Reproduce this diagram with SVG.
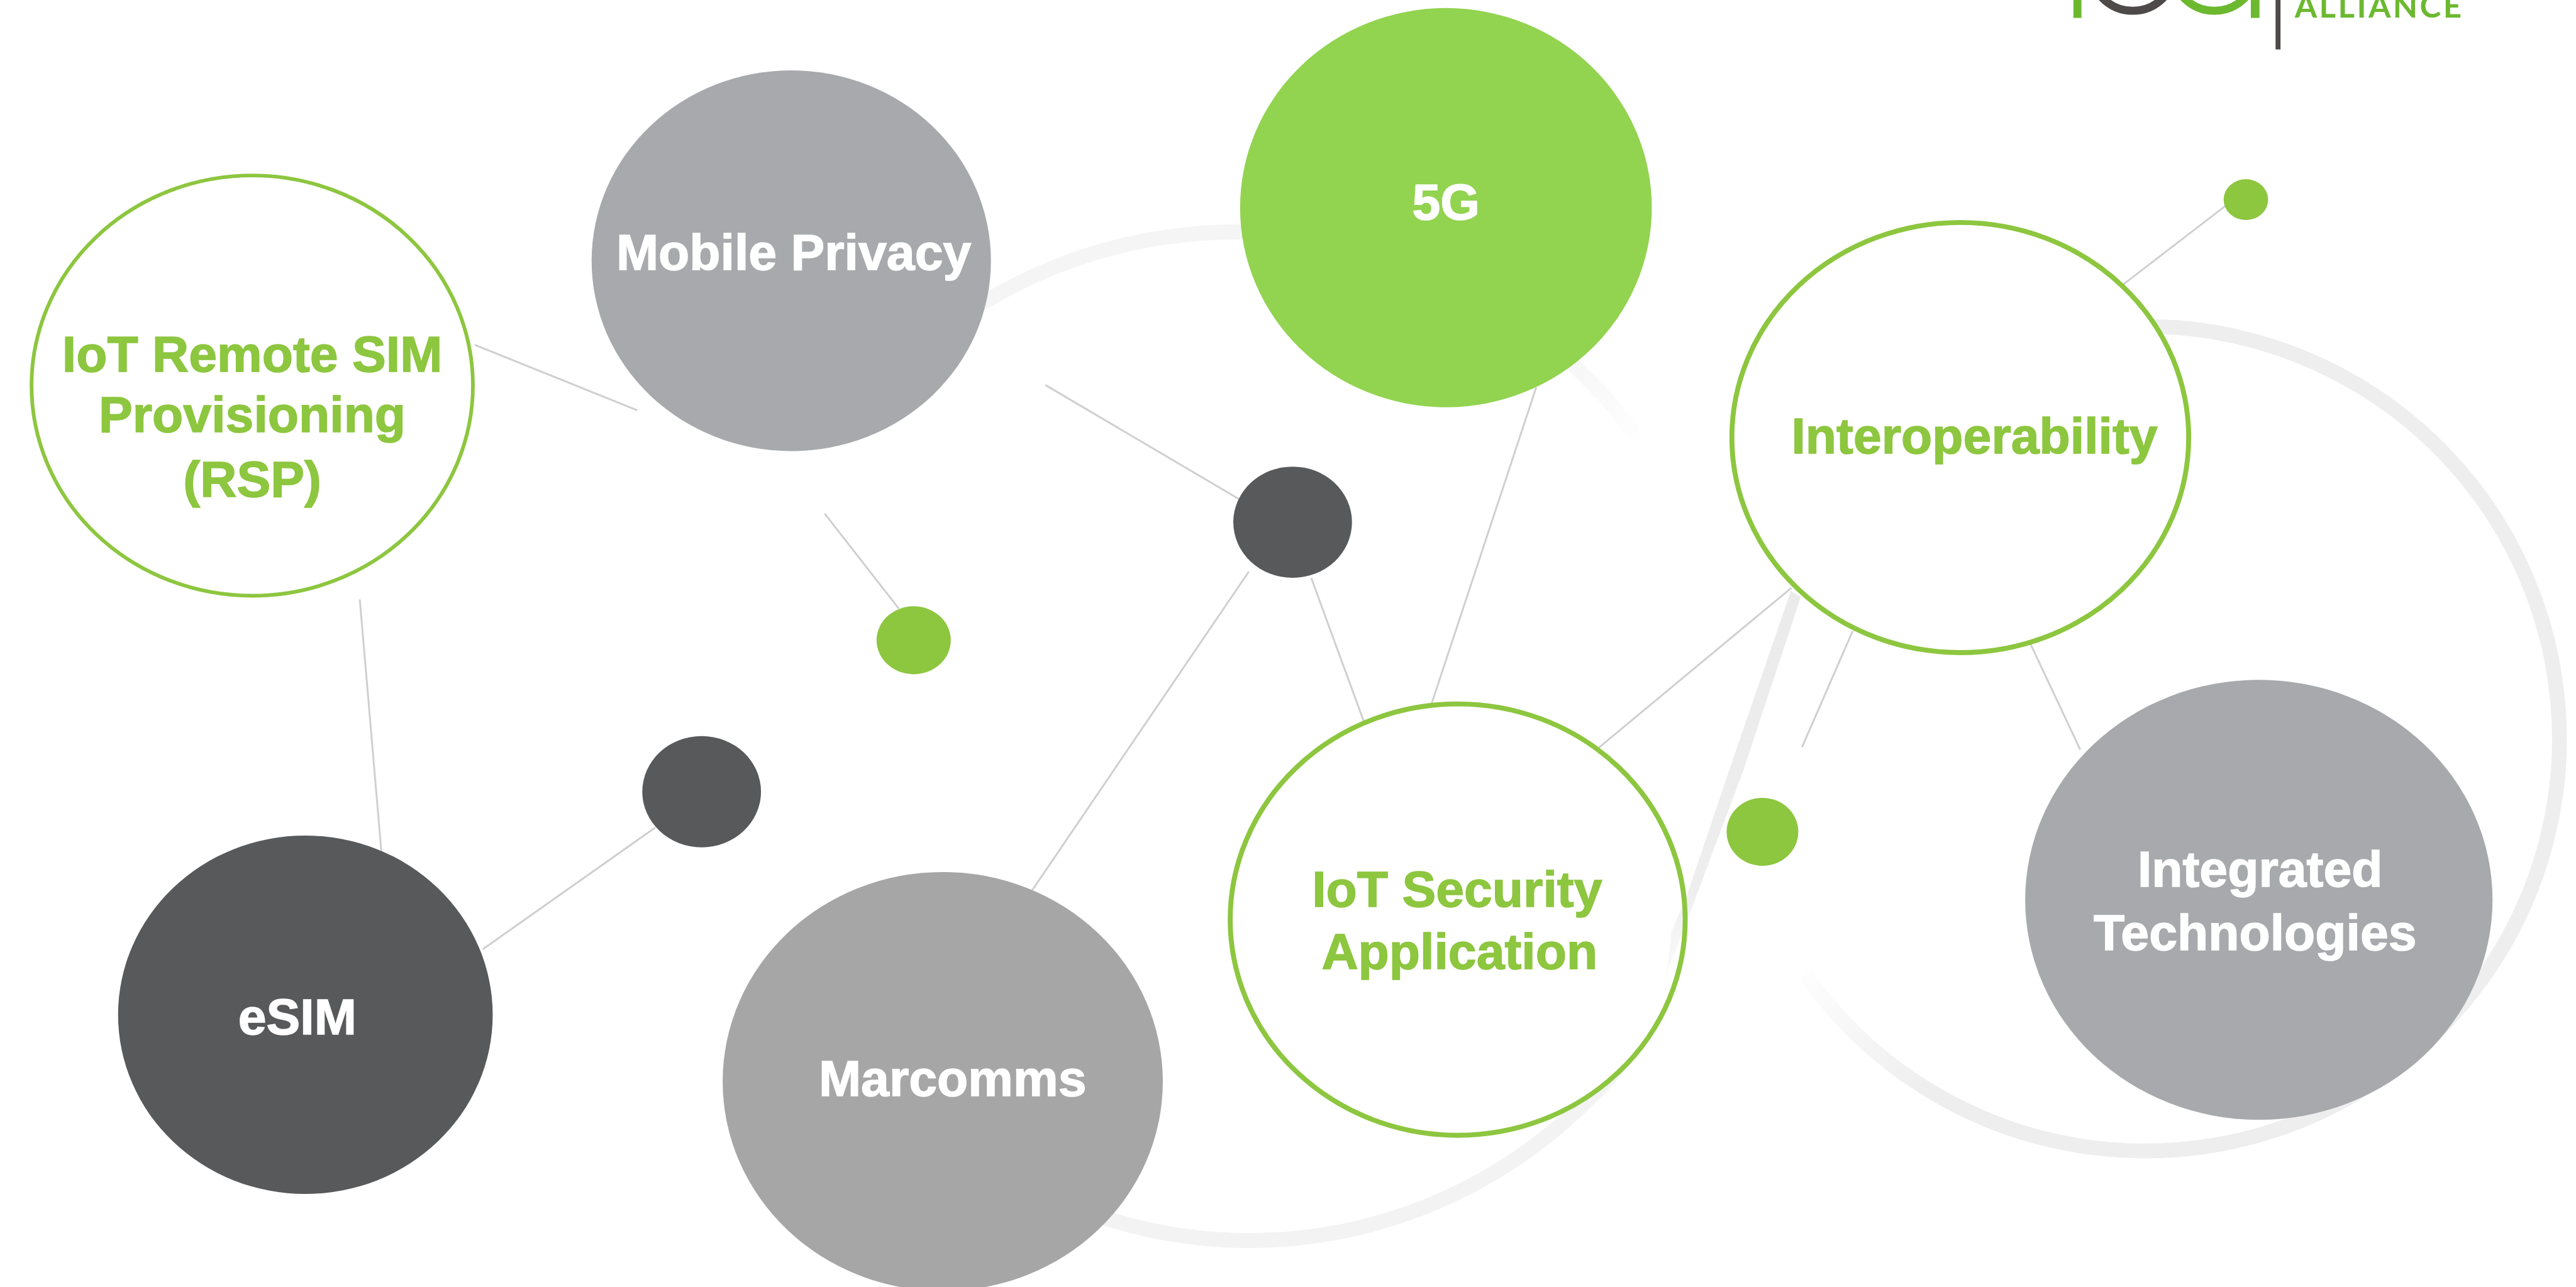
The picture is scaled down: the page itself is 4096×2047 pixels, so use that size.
<svg xmlns="http://www.w3.org/2000/svg" width="4096" height="2047" viewBox="0 0 4096 2047">
<style>
.ring{fill:none;stroke-width:24}
.link{stroke:#cfcfcf;stroke-width:3;fill:none}
.lbl{font-family:"Liberation Sans",Arial,sans-serif;font-weight:700;font-size:82px;text-anchor:middle;stroke-width:1.5}
.w{fill:#fff;stroke:#fff}.g{fill:#8dc63f;stroke:#8dc63f}
.open{fill:#fff;stroke:#8dc63f;stroke-width:8}
</style>
<defs>
<linearGradient id="fadeA" gradientUnits="userSpaceOnUse" x1="2905" y1="1555" x2="3120" y2="1764"><stop offset="0" stop-color="#fff"/><stop offset="1" stop-color="#eeeeee"/></linearGradient>
<linearGradient id="fadeB" gradientUnits="userSpaceOnUse" x1="2880" y1="1000" x2="2695" y2="1578"><stop offset="0" stop-color="#ebebeb"/><stop offset="0.75" stop-color="#eeeeee"/><stop offset="1" stop-color="#fafafa"/></linearGradient>
<linearGradient id="fadeC" gradientUnits="userSpaceOnUse" x1="2480" y1="520" x2="2660" y2="720"><stop offset="0" stop-color="#f2f2f2"/><stop offset="1" stop-color="#fff"/></linearGradient>
</defs>
<rect width="4096" height="2047" fill="#fff"/>
<g transform="scale(0.98296)">
<g id="background-arcs">
<path class="ring" stroke="#eeeeee" d="M3440 529 A670 667 0 1 1 3120 1764"/>
<path class="ring" stroke="url(#fadeA)" d="M3120 1764 A670 667 0 0 1 2920 1576"/>
<path class="ring" stroke="#f5f5f5" d="M1590 490 A803 816 0 0 1 2200 401"/>
<path class="ring" stroke="url(#fadeC)" d="M2440 508 A803 816 0 0 1 2650 710"/>
<path class="ring" stroke="#f3f3f3" d="M2681 1640 A790 816 0 0 1 1770 1965"/>
</g>
<g id="connectors">
<line class="link" x1="768" y1="558" x2="1031" y2="664"/>
<line class="link" x1="582" y1="970" x2="617" y2="1379"/>
<line class="link" x1="1334" y1="831" x2="1454" y2="985"/>
<line class="link" x1="1691" y1="623" x2="2005" y2="808"/>
<line class="link" x1="2121" y1="935" x2="2206" y2="1167"/>
<line class="link" x1="2020" y1="925" x2="1666" y2="1446"/>
<line class="link" x1="2485" y1="627" x2="2312" y2="1150"/>
<line class="link" x1="781" y1="1536" x2="1060" y2="1339"/>
<line class="link" x1="2586" y1="1210" x2="2898" y2="951"/>
<line class="link" x1="2997" y1="1021" x2="2915" y2="1209"/>
<line class="link" x1="3285" y1="1043" x2="3365" y2="1213"/>
<line class="link" x1="3435" y1="460" x2="3600" y2="333"/>
</g>
<g id="node-rsp">
<ellipse class="open" cx="408" cy="624" rx="357" ry="340" style="stroke-width:6"/>
<text class="lbl g" x="408" y="601">IoT Remote SIM</text>
<text class="lbl g" x="408" y="699">Provisioning</text>
<text class="lbl g" x="408" y="804">(RSP)</text>
</g>
<g id="node-mobile-privacy">
<ellipse cx="1280" cy="422" rx="323" ry="308" fill="#a7a9ac"/>
<text class="lbl w" x="1284" y="436">Mobile Privacy</text>
</g>
<g id="node-5g">
<ellipse cx="2339" cy="336" rx="333" ry="323" fill="#92d350"/>
<text class="lbl w" x="2339" y="355">5G</text>
</g>
<g id="node-iot-security">
<ellipse cx="2358" cy="1488" rx="368" ry="349" fill="#fff"/>
<path fill="url(#fadeB)" d="M2897 956 L2913 966 L2820 1247 L2730 1487 L2695 1578 Q2700 1545 2704 1507 L2728 1451 L2797 1247 Z"/>
<ellipse class="open" cx="2358" cy="1488" rx="368" ry="349" style="fill:none"/>
<text class="lbl g" x="2357" y="1467">IoT Security</text>
<text class="lbl g" x="2361" y="1568">Application</text>
</g>
<g id="node-interoperability">
<ellipse class="open" cx="3171" cy="708" rx="369.5" ry="348"/>
<text class="lbl g" x="3194" y="734">Interoperability</text>
</g>
<g id="node-integrated-technologies">
<ellipse cx="3654" cy="1456" rx="378" ry="356" fill="#a7a9ac"/>
<text class="lbl w" x="3656" y="1434">Integrated</text>
<text class="lbl w" x="3648" y="1537">Technologies</text>
</g>
<g id="node-marcomms">
<ellipse cx="1525" cy="1750" rx="356" ry="339" fill="#a6a6a6"/>
<text class="lbl w" x="1541" y="1773">Marcomms</text>
</g>
<g id="node-esim">
<ellipse cx="494" cy="1642" rx="303" ry="290" fill="#58595b"/>
<text class="lbl w" x="481" y="1674">eSIM</text>
</g>
<g id="dot-dark-1"><ellipse cx="2091" cy="845" rx="96" ry="90" fill="#58595b"/></g>
<g id="dot-dark-2"><ellipse cx="1135" cy="1281" rx="96" ry="90" fill="#58595b"/></g>
<g id="dot-green-1"><ellipse cx="1478" cy="1036" rx="60" ry="55" fill="#8dc63f"/></g>
<g id="dot-green-2"><ellipse cx="2851" cy="1346" rx="58" ry="55" fill="#8dc63f"/></g>
<g id="dot-green-3"><ellipse cx="3633" cy="323" rx="36" ry="33" fill="#8dc63f"/></g>
<g id="logo">
<rect x="3354" y="-5" width="13" height="34" fill="#6cb92f"/>
<circle cx="3450" cy="-51" r="68.5" fill="none" stroke="#4e4a4a" stroke-width="13"/>
<circle cx="3582" cy="-51" r="68.5" fill="none" stroke="#6cb92f" stroke-width="13"/>
<rect x="3641" y="-5" width="14" height="34" fill="#6cb92f"/>
<rect x="3681" y="-5" width="8" height="85" fill="#4e4a4a"/>
<text x="3712" y="28" font-family="Lato,Liberation Sans,Arial,sans-serif" font-weight="700" font-size="52" textLength="270" lengthAdjust="spacing" fill="#6cb92f">ALLIANCE</text>
</g>
</g>
</svg>
